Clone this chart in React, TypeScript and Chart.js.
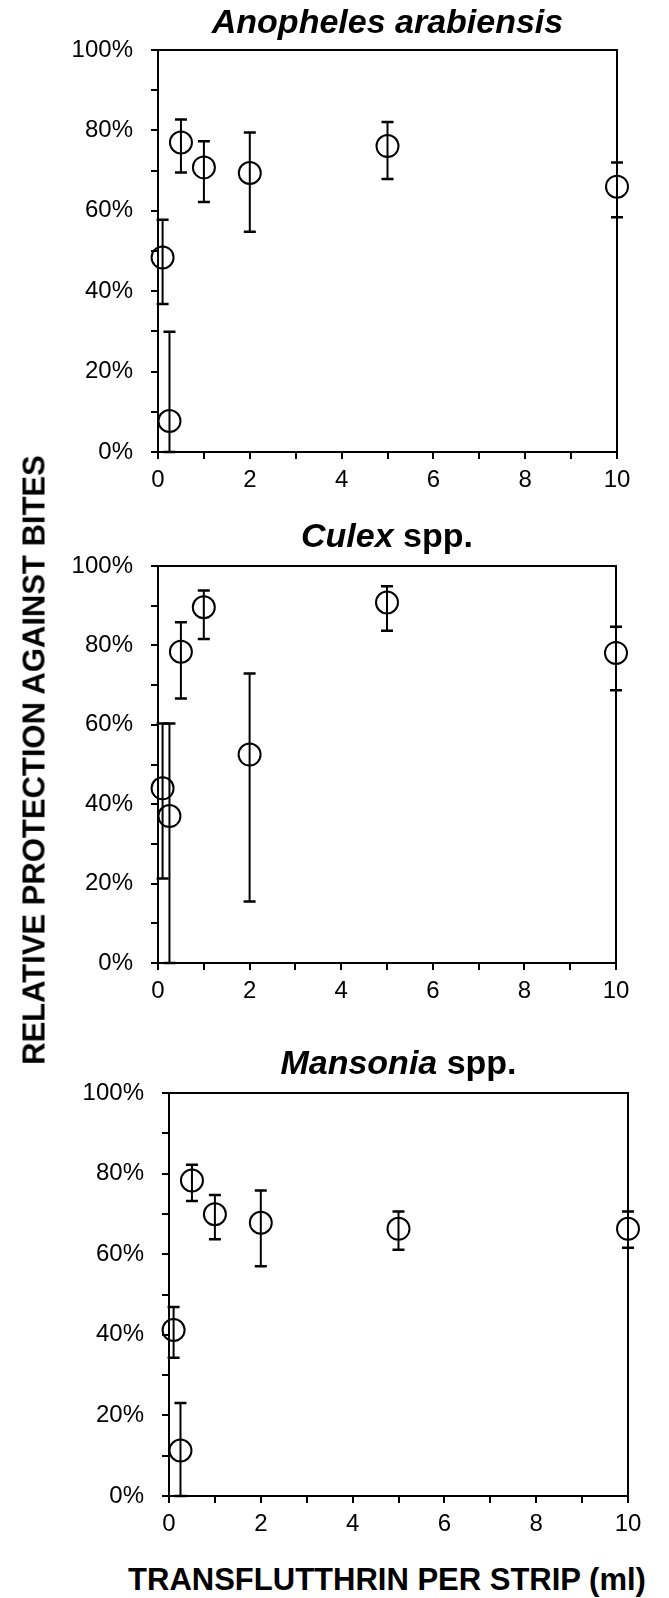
import React, { useEffect, useRef } from 'react';
import { Chart, registerables } from 'chart.js';

Chart.register(...registerables);

// ---------- data ----------
const doses = [0.1, 0.25, 0.5, 1, 2, 5, 10];

const anophelesMean = [48.4, 7.7, 77.0, 70.8, 69.4, 76.1, 66.0];
const anophelesLower = [36.8, 0, 69.5, 62.2, 54.8, 67.9, 58.4];
const anophelesUpper = [57.8, 29.9, 82.7, 77.3, 79.5, 82.1, 72.0];

const culexMean = [44.0, 37.0, 78.4, 89.6, 52.5, 90.8, 78.1];
const culexLower = [21.3, 0, 66.6, 81.6, 15.5, 83.7, 68.7];
const culexUpper = [60.3, 60.3, 85.8, 93.8, 72.9, 94.9, 84.7];

const mansoniaMean = [41.2, 11.3, 78.3, 69.9, 67.8, 66.3, 66.3];
const mansoniaLower = [34.3, 0, 73.2, 63.7, 57.0, 61.1, 61.6];
const mansoniaUpper = [46.9, 23.1, 82.2, 74.7, 75.8, 70.6, 70.6];

const xTickLabels = ['0', '2', '4', '6', '8', '10'];
const yTickLabels = ['0%', '20%', '40%', '60%', '80%', '100%'];

const yAxisTitle = 'RELATIVE PROTECTION AGAINST BITES';
const xAxisTitle = 'TRANSFLUTTHRIN PER STRIP (ml)';

const FONT = "'Liberation Sans', Arial, Helvetica, sans-serif";
const W = 669;

type Seg = { text: string; italic: boolean };

interface PanelSpec {
  title: Seg[];
  titleGap: number;
  mean: number[];
  lower: number[];
  upper: number[];
  top: number;
  height: number;
  area: { left: number; right: number; top: number; bottom: number };
}

const panels: PanelSpec[] = [
  {
    title: [{ text: 'Anopheles arabiensis', italic: true }],
    titleGap: 17,
    mean: anophelesMean,
    lower: anophelesLower,
    upper: anophelesUpper,
    top: 0,
    height: 520,
    area: { left: 158, right: 617, top: 50, bottom: 452 },
  },
  {
    title: [
      { text: 'Culex', italic: true },
      { text: ' spp.', italic: false },
    ],
    titleGap: 19,
    mean: culexMean,
    lower: culexLower,
    upper: culexUpper,
    top: 520,
    height: 520,
    area: { left: 158, right: 616, top: 46, bottom: 443 },
  },
  {
    title: [
      { text: 'Mansonia', italic: true },
      { text: ' spp.', italic: false },
    ],
    titleGap: 19,
    mean: mansoniaMean,
    lower: mansoniaLower,
    upper: mansoniaUpper,
    top: 1040,
    height: 520,
    area: { left: 169, right: 628, top: 53, bottom: 456 },
  },
];

// ---------- plugins ----------
const errorBarPlugin = {
  id: 'errorBars',
  beforeDatasetsDraw(chart: any) {
    const ctx = chart.ctx;
    const xs = chart.scales.x;
    const ys = chart.scales.y;
    chart.data.datasets.forEach((ds: any) => {
      const lo: number[] = ds.errLower;
      const hi: number[] = ds.errUpper;
      ds.data.forEach((p: any, i: number) => {
        const x = xs.getPixelForValue(p.x);
        const yl = ys.getPixelForValue(lo[i]);
        const yh = ys.getPixelForValue(hi[i]);
        ctx.save();
        ctx.strokeStyle = '#000';
        ctx.lineWidth = 2;
        ctx.beginPath();
        ctx.moveTo(x, yh);
        ctx.lineTo(x, yl);
        ctx.stroke();
        ctx.lineWidth = 2.5;
        ctx.beginPath();
        ctx.moveTo(x - 6, yh);
        ctx.lineTo(x + 6, yh);
        ctx.moveTo(x - 6, yl);
        ctx.lineTo(x + 6, yl);
        ctx.stroke();
        ctx.restore();
      });
    });
  },
};

const framePlugin = {
  id: 'frame',
  afterDraw(chart: any) {
    const { ctx, chartArea } = chart;
    ctx.save();
    ctx.strokeStyle = '#000';
    ctx.lineWidth = 2;
    ctx.beginPath();
    ctx.moveTo(chartArea.left - 1, chartArea.top);
    ctx.lineTo(chartArea.right, chartArea.top);
    ctx.lineTo(chartArea.right, chartArea.bottom);
    ctx.stroke();
    ctx.restore();
  },
};

const titlePlugin = {
  id: 'panelTitle',
  afterDraw(chart: any, _args: any, opts: any) {
    const segs: Seg[] = opts.segments || [];
    const gap: number = opts.gap || 20;
    const { ctx, chartArea } = chart;
    const size = 34;
    const fontOf = (s: Seg) => `${s.italic ? 'italic ' : ''}bold ${size}px ${FONT}`;
    let total = 0;
    const widths = segs.map((s) => {
      ctx.font = fontOf(s);
      const w = ctx.measureText(s.text).width;
      total += w;
      return w;
    });
    let x = (chartArea.left + chartArea.right) / 2 - total / 2;
    const y = chartArea.top - gap;
    ctx.save();
    ctx.fillStyle = '#000';
    ctx.textBaseline = 'alphabetic';
    ctx.textAlign = 'left';
    segs.forEach((s, i) => {
      ctx.font = fontOf(s);
      ctx.fillText(s.text, x, y);
      x += widths[i];
    });
    ctx.restore();
  },
};

function Panel({ spec }: { spec: PanelSpec }) {
  const ref = useRef<HTMLCanvasElement | null>(null);
  useEffect(() => {
    if (!ref.current) return;
    const { area, height } = spec;
    const tickFont = { family: FONT, size: 24 };
    const chart = new Chart(ref.current, {
      type: 'scatter',
      data: {
        datasets: [
          {
            data: doses.map((x, i) => ({ x, y: spec.mean[i] })),
            errLower: spec.lower,
            errUpper: spec.upper,
            pointRadius: 11,
            pointHoverRadius: 11,
            pointBorderWidth: 2,
            pointBorderColor: '#000',
            pointBackgroundColor: 'rgba(0,0,0,0)',
            borderColor: '#000',
            backgroundColor: 'rgba(0,0,0,0)',
            clip: false,
          } as any,
        ],
      },
      options: {
        responsive: false,
        animation: false,
        events: [],
        layout: { padding: { left: 0, top: area.top, right: W - area.right, bottom: 0 } },
        plugins: {
          legend: { display: false },
          tooltip: { enabled: false },
          title: { display: false },
          panelTitle: { segments: spec.title, gap: spec.titleGap },
        } as any,
        scales: {
          x: {
            type: 'linear',
            min: 0,
            max: 10,
            afterFit: (s: any) => {
              s.height = height - area.bottom;
            },
            ticks: {
              stepSize: 1,
              autoSkip: false,
              maxRotation: 0,
              padding: 7,
              color: '#000',
              font: tickFont,
              callback: (v: any) => {
                const s = String(v);
                return xTickLabels.includes(s) ? s : '';
              },
            },
            grid: {
              display: true,
              drawOnChartArea: false,
              drawTicks: true,
              tickLength: 7,
              color: '#000',
              lineWidth: 2,
            },
            border: { display: true, color: '#000', width: 2 },
          },
          y: {
            type: 'linear',
            min: 0,
            max: 100,
            afterFit: (s: any) => {
              s.width = area.left;
            },
            ticks: {
              stepSize: 10,
              autoSkip: false,
              padding: 18,
              color: '#000',
              font: tickFont,
              callback: (v: any) => {
                const s = `${v}%`;
                return yTickLabels.includes(s) ? s : '';
              },
            },
            grid: {
              display: true,
              drawOnChartArea: false,
              drawTicks: true,
              tickLength: 7,
              color: '#000',
              lineWidth: 2,
            },
            border: { display: true, color: '#000', width: 2 },
          },
        },
      } as any,
      plugins: [errorBarPlugin, framePlugin, titlePlugin],
    });
    return () => chart.destroy();
  }, [spec]);

  return (
    <canvas
      ref={ref}
      width={W}
      height={spec.height}
      style={{ position: 'absolute', left: 0, top: spec.top, width: W, height: spec.height }}
    />
  );
}

export default function App() {
  return (
    <div
      style={{
        position: 'absolute',
        left: 0,
        top: 0,
        width: W,
        height: 1598,
        background: '#fff',
        overflow: 'hidden',
      }}
    >
      {panels.map((p, i) => (
        <Panel key={i} spec={p} />
      ))}
      <div
        style={{
          position: 'absolute',
          left: 34,
          top: 760,
          transform: 'translate(-50%, -50%) rotate(-90deg)',
          whiteSpace: 'nowrap',
          font: `bold 31px ${FONT}`,
          lineHeight: '31px',
          color: '#000',
        }}
      >
        {yAxisTitle}
      </div>
      <div
        style={{
          position: 'absolute',
          left: 387,
          top: 1564,
          transform: 'translateX(-50%)',
          whiteSpace: 'nowrap',
          font: `bold 31px ${FONT}`,
          lineHeight: '31px',
          color: '#000',
        }}
      >
        {xAxisTitle}
      </div>
    </div>
  );
}
